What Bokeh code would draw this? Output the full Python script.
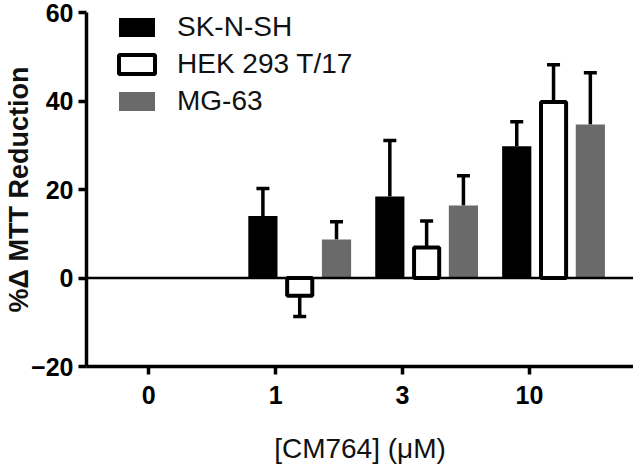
import numpy as np
from bokeh.plotting import figure
from bokeh.models import (Range1d, FixedTicker, Legend, LegendItem, Whisker,
                          TeeHead, ColumnDataSource, Span)
from bokeh.embed import file_html
from bokeh.resources import INLINE

# ---- data ----
doses = ["0", "1", "3", "10"]
series_names = ["SK-N-SH", "HEK 293 T/17", "MG-63"]
sk_mean = [np.nan, 14.0, 18.4, 29.8]
sk_err = [np.nan, 6.2, 12.7, 5.5]
hek_mean = [np.nan, -4.0, 6.9, 39.8]
hek_err = [np.nan, 4.7, 6.0, 8.4]
mg_mean = [np.nan, 8.7, 16.4, 34.7]
mg_err = [np.nan, 4.0, 6.7, 11.7]
y_ticks = [-20, 0, 20, 40, 60]
x_title = "[CM764] (\u03bcM)"
y_title = "%\u0394 MTT Reduction"

FONT = "'Liberation Sans', Arial, Helvetica, sans-serif"
Y0, Y1 = -20, 60
X0, X1 = -0.49, 3.82

p = figure(width=633, height=466, x_range=Range1d(X0, X1),
           y_range=Range1d(Y0, Y1), toolbar_location=None,
           output_backend="svg", min_border_left=86, min_border_right=0,
           min_border_top=12, min_border_bottom=100)
p.outline_line_color = None
p.xgrid.visible = False
p.ygrid.visible = False

idx = np.arange(len(doses))
group_shift = 0.19
offsets = [-0.29, 0.0, 0.29]
means = [sk_mean, hek_mean, mg_mean]
errs = [sk_err, hek_err, mg_err]
fills = ["black", "white", "#6a6a6a"]
lines = ["black", "black", "#6a6a6a"]
lws = [0, 4, 0]
widths = [0.23, 0.198, 0.23]

renderers = []
for name, m, e, fc, lc, lw, w, off in zip(series_names, means, errs, fills,
                                          lines, lws, widths, offsets):
    m = np.array(m, dtype=float)
    e = np.array(e, dtype=float)
    x = idx + group_shift + off
    end = m + np.sign(m) * e
    src = ColumnDataSource(dict(x=x, mean=m, end=end))
    wk = Whisker(source=src, base="x", lower="mean", upper="end",
                 lower_head=None,
                 upper_head=TeeHead(size=13, line_width=3.5, line_color="black"),
                 line_width=3.5, line_color="black")
    p.add_layout(wk)
    r = p.vbar(x="x", top="mean", bottom=0, width=w, source=src,
               fill_color=fc, line_color=lc, line_width=lw if lw else 1,
               line_alpha=1.0 if lw else 0.0)
    renderers.append(r)

p.add_layout(Span(location=0, dimension="width", line_color="black",
                  line_width=2.5))

# axes
for ax in (p.xaxis[0], p.yaxis[0]):
    ax.axis_line_width = 3.5
    ax.axis_line_color = "black"
    ax.major_tick_line_width = 3.5
    ax.major_tick_line_color = "black"
    ax.major_tick_out = 8
    ax.major_tick_in = 0
    ax.minor_tick_line_color = None
    ax.major_label_text_font = FONT
    ax.major_label_text_font_style = "bold"
    ax.major_label_text_font_size = "25px"
    ax.major_label_text_color = "black"

p.xaxis.ticker = FixedTicker(ticks=list(idx))
p.xaxis.major_label_overrides = {int(i): d for i, d in zip(idx, doses)}
p.xaxis.major_label_standoff = 11
p.xaxis.axis_label = x_title
p.xaxis.axis_label_text_font = FONT
p.xaxis.axis_label_text_font_style = "normal"
p.xaxis.axis_label_text_font_size = "28px"
p.xaxis.axis_label_text_line_height = 1.0
p.xaxis.axis_label_text_color = "#111111"
p.xaxis.axis_label_standoff = 26

p.yaxis.ticker = FixedTicker(ticks=y_ticks)
p.yaxis.major_label_standoff = 5
p.yaxis.axis_label = y_title
p.yaxis.axis_label_text_font = FONT
p.yaxis.axis_label_text_font_style = "bold"
p.yaxis.axis_label_text_font_size = "27px"
p.yaxis.axis_label_text_line_height = 1.0
p.yaxis.axis_label_text_color = "#111111"
p.yaxis.axis_label_standoff = -6

legend = Legend(items=[LegendItem(label=n, renderers=[r])
                       for n, r in zip(series_names, renderers)],
                location=(28, 249), orientation="vertical",
                glyph_width=45, glyph_height=24, spacing=5, padding=0,
                margin=0, label_standoff=18,
                label_text_font=FONT, label_text_font_size="28px",
                label_text_color="#111111",
                border_line_color=None, background_fill_alpha=0)
p.add_layout(legend)

open("out.html", "w").write(file_html(p, INLINE))
